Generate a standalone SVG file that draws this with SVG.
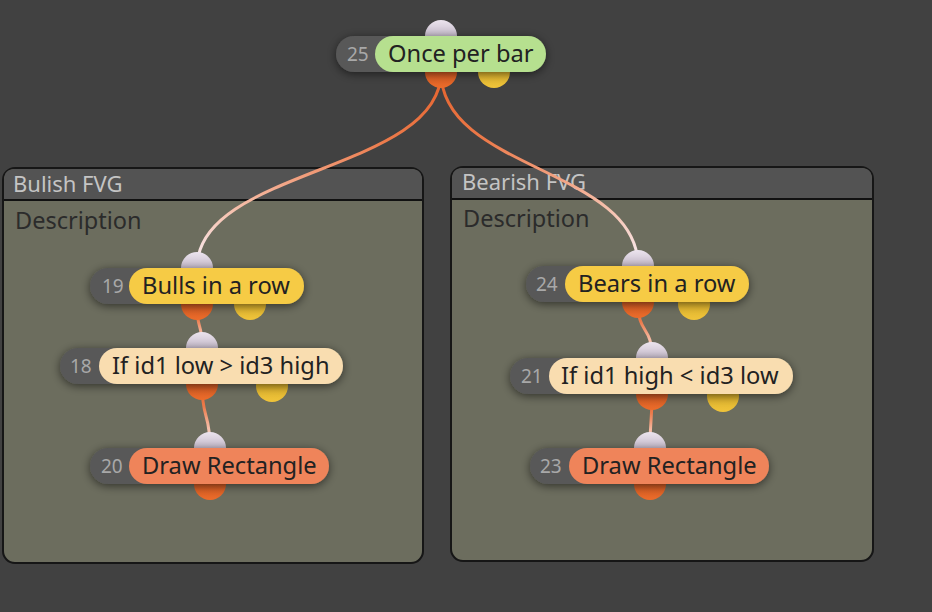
<svg xmlns="http://www.w3.org/2000/svg" width="932" height="612" viewBox="0 0 932 612">
<defs>
<style>
.grp-body{fill:#6c6d5e;stroke:#161616;stroke-width:2}
.grp-head{fill:#535353}
.grp-sep{stroke:#111;stroke-width:2}
.grp-title{font-family:"Noto Sans","Open Sans",sans-serif;font-size:22px;fill:#c4c4c4}
.grp-desc{font-family:"Noto Sans","Open Sans",sans-serif;font-size:23.5px;fill:#2b2b2b}
.dark{fill:#585858}
.num{font-family:"Noto Sans","Open Sans",sans-serif;font-size:19px;fill:#a8a8a8}
.lbl{font-family:"Noto Sans","Open Sans",sans-serif;font-size:23.7px;fill:#222}
.green{fill:#b6e08f}
.yellow{fill:#f6cb45}
.cream{fill:#f9ddb0}
.orange{fill:#ef845a}
.in{fill:url(#gIn)}
.out{fill:url(#gOut)}
.yel{fill:url(#gYel)}
.wire{fill:none;stroke-width:3;stroke:url(#gWire)}
</style>
<linearGradient id="gIn" x1="0" y1="0" x2="0" y2="1">
<stop offset="0" stop-color="#ece4ee"/><stop offset="1" stop-color="#9d90a6"/>
</linearGradient>
<linearGradient id="gOut" x1="0" y1="0" x2="0" y2="1">
<stop offset="0" stop-color="#b8481a"/><stop offset="1" stop-color="#ec6c2a"/>
</linearGradient>
<linearGradient id="gYel" x1="0" y1="0" x2="0" y2="1">
<stop offset="0" stop-color="#c9a020"/><stop offset="1" stop-color="#f0c43a"/>
</linearGradient>
<linearGradient id="gWire" x1="0" y1="0" x2="0" y2="1">
<stop offset="0" stop-color="#e4602a"/><stop offset="0.35" stop-color="#ec7a4a"/><stop offset="0.7" stop-color="#f6c0ac"/><stop offset="1" stop-color="#f8f0f8"/>
</linearGradient>
<filter id="sh" x="-20%" y="-60%" width="140%" height="220%">
<feDropShadow dx="0" dy="2" stdDeviation="5" flood-color="#000" flood-opacity="0.55"/>
</filter>
</defs>
<rect width="932" height="612" fill="#414141"/>

<g id="group-bulish">
<rect class="grp-body" x="3" y="168" width="420" height="395" rx="12"/>
<path class="grp-head" d="M4,200 V180 Q4,169 15,169 H411 Q422,169 422,180 V200 Z"/>
<line class="grp-sep" x1="4" y1="200" x2="422" y2="200"/>
<text class="grp-title" x="13" y="192">Bulish FVG</text>
<text class="grp-desc" x="15" y="229">Description</text>
</g>

<g id="group-bearish">
<rect class="grp-body" x="451" y="167" width="422" height="394" rx="12"/>
<path class="grp-head" d="M452,199 V179 Q452,168 463,168 H861 Q872,168 872,179 V199 Z"/>
<line class="grp-sep" x1="452" y1="199" x2="872" y2="199"/>
<text class="grp-title" x="462" y="190">Bearish FVG</text>
<text class="grp-desc" x="463" y="227">Description</text>
</g>

<g id="connectors">
<path class="wire" d="M441,72 C441,172 197,168 197,268"/>
<path class="wire" d="M441,72 C441,170 638,168 638,266"/>
<path class="wire" d="M197,304 C197,332 202,320 202,348"/>
<path class="wire" d="M202,384 C202,420 210,412 210,448"/>
<path class="wire" d="M638,302 C638,336 652,324 652,358"/>
<path class="wire" d="M652,394 C652,424 650,418 650,448"/>
</g>

<g id="node-25">
<circle class="in" cx="441" cy="36" r="16"/>
<circle class="out" cx="441" cy="72" r="16"/>
<circle class="yel" cx="494" cy="72" r="16"/>
<g filter="url(#sh)">
<rect class="dark" x="336" y="36" width="80" height="36" rx="18"/>
<rect class="green" x="375" y="36" width="171" height="36" rx="18"/>
</g>
<text class="num" x="347" y="61">25</text>
<text class="lbl" x="388" y="62">Once per bar</text>
</g>

<g id="node-19">
<circle class="in" cx="197" cy="268" r="16"/>
<circle class="out" cx="197" cy="304" r="16"/>
<circle class="yel" cx="250" cy="304" r="16"/>
<g filter="url(#sh)">
<rect class="dark" x="90" y="268" width="80" height="36" rx="18"/>
<rect class="yellow" x="129" y="268" width="175" height="36" rx="18"/>
</g>
<text class="num" x="102" y="293">19</text>
<text class="lbl" x="142" y="294">Bulls in a row</text>
</g>

<g id="node-18">
<circle class="in" cx="202" cy="348" r="16"/>
<circle class="out" cx="202" cy="384" r="16"/>
<circle class="yel" cx="272" cy="386" r="16"/>
<g filter="url(#sh)">
<rect class="dark" x="60" y="348" width="80" height="36" rx="18"/>
<rect class="cream" x="99" y="348" width="244" height="36" rx="18"/>
</g>
<text class="num" x="70" y="373">18</text>
<text class="lbl" x="112" y="374">If id1 low &gt; id3 high</text>
</g>

<g id="node-20">
<circle class="in" cx="210" cy="448" r="16"/>
<circle class="out" cx="210" cy="484" r="16"/>
<g filter="url(#sh)">
<rect class="dark" x="90" y="448" width="80" height="36" rx="18"/>
<rect class="orange" x="129" y="448" width="200" height="36" rx="18"/>
</g>
<text class="num" x="101" y="473">20</text>
<text class="lbl" x="142" y="474">Draw Rectangle</text>
</g>

<g id="node-24">
<circle class="in" cx="638" cy="266" r="16"/>
<circle class="out" cx="638" cy="302" r="16"/>
<circle class="yel" cx="694" cy="304" r="16"/>
<g filter="url(#sh)">
<rect class="dark" x="526" y="266" width="80" height="36" rx="18"/>
<rect class="yellow" x="565" y="266" width="184" height="36" rx="18"/>
</g>
<text class="num" x="536" y="291">24</text>
<text class="lbl" x="578" y="292">Bears in a row</text>
</g>

<g id="node-21">
<circle class="in" cx="652" cy="358" r="16"/>
<circle class="out" cx="652" cy="394" r="16"/>
<circle class="yel" cx="723" cy="396" r="16"/>
<g filter="url(#sh)">
<rect class="dark" x="510" y="358" width="80" height="36" rx="18"/>
<rect class="cream" x="549" y="358" width="244" height="36" rx="18"/>
</g>
<text class="num" x="521" y="383">21</text>
<text class="lbl" x="561" y="384">If id1 high &lt; id3 low</text>
</g>

<g id="node-23">
<circle class="in" cx="650" cy="448" r="16"/>
<circle class="out" cx="650" cy="484" r="16"/>
<g filter="url(#sh)">
<rect class="dark" x="530" y="448" width="80" height="36" rx="18"/>
<rect class="orange" x="569" y="448" width="200" height="36" rx="18"/>
</g>
<text class="num" x="540" y="473">23</text>
<text class="lbl" x="582" y="474">Draw Rectangle</text>
</g>
</svg>
